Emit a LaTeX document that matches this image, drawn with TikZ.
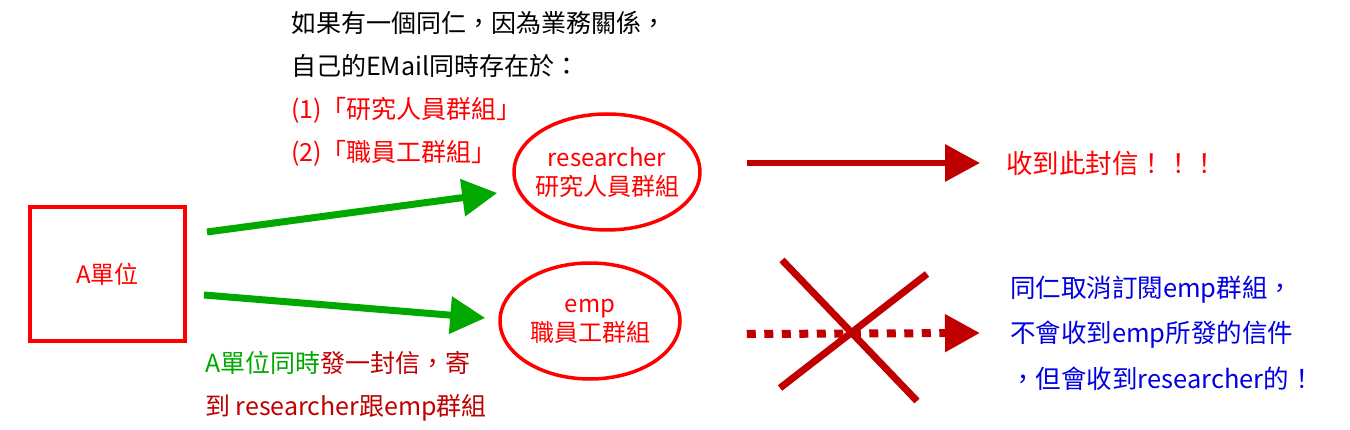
\documentclass[tikz,border=0pt]{standalone}
\usepackage{fontspec}
\setmainfont{Noto Sans CJK TC}
\usepackage{xcolor}
\usetikzlibrary{positioning,arrows.meta,shapes.geometric}
\definecolor{boxred}{HTML}{FF0000}
\definecolor{darkred}{HTML}{C00000}
\definecolor{sendgreen}{HTML}{00A800}
\definecolor{noteblue}{HTML}{0000E0}

\begin{document}
\begin{tikzpicture}[x=1pt, y=-1pt,
    every node/.style={inner sep=0pt, font=\fontsize{25}{43}\selectfont},
    unitbox/.style={draw=boxred, line width=4pt, minimum width=155pt, minimum height=134pt, text=boxred,
      font=\fontsize{24}{29}\selectfont},
    group/.style={ellipse, draw=boxred, line width=3.5pt, text=boxred, align=center,
      inner sep=-12pt, font=\fontsize{24}{29}\selectfont},
    sendarrow/.style={sendgreen, line width=7pt, -{Triangle[length=35pt,width=36pt]}},
    getarrow/.style={darkred, line width=6.5pt, -{Triangle[length=35pt,width=36pt]}},
  ]
  \useasboundingbox (0,0) rectangle (1350,430);

  % sender and the two groups
  \node[unitbox] (unit) at (107.5,274) {A單位};
  \node[group, minimum width=186pt, minimum height=116pt] (res) at (607,172) {researcher\\研究人員群組};
  \node[group, minimum width=180pt, minimum height=116pt] (emp) at (590,321) {emp\\職員工群組};

  % texts
  \node[anchor=west, align=left] (story) at (291,89)
    {如果有一個同仁，因為業務關係，\\自己的EMail同時存在於：\\
     \textcolor{boxred}{(1)「研究人員群組」}\\\textcolor{boxred}{(2)「職員工群組」}};
  \node[anchor=west, align=left, text=darkred] (send) at (205,386.5)
    {\textcolor{sendgreen}{A單位同時}發一封信，寄\\到 researcher跟emp群組};
  \node[anchor=west, text=boxred, font=\fontsize{26.5}{30}\selectfont] (got) at (1006,163) {收到此封信！！！};
  \node[anchor=west, align=left, text=noteblue, font=\fontsize{25.5}{45.5}\selectfont] (cancel) at (1010,333)
    {同仁取消訂閱emp群組，\\不會收到emp所發的信件\\，但會收到researcher的！};

  % mail flow
  \draw[sendarrow] ([shift={(20,-42)}]unit.east) -- ([shift={(-15,21)}]res.west);
  \draw[sendarrow] ([shift={(17,21)}]unit.east) -- ([shift={(-13,-3)}]emp.west);
  \draw[getarrow] ([shift={(45,-9)}]res.east) -- ([shift={(-26,0)}]got.west);
  \draw[getarrow, line width=8pt, dash pattern=on 9pt off 8.5pt] ([shift={(65,13)}]emp.east) -- ([shift={(-30,0)}]cancel.west);

  % blocked
  \draw[darkred, line width=7pt] (782,260) -- (917,401);
  \draw[darkred, line width=7pt] (780,388) -- (927,274);
\end{tikzpicture}
\end{document}
